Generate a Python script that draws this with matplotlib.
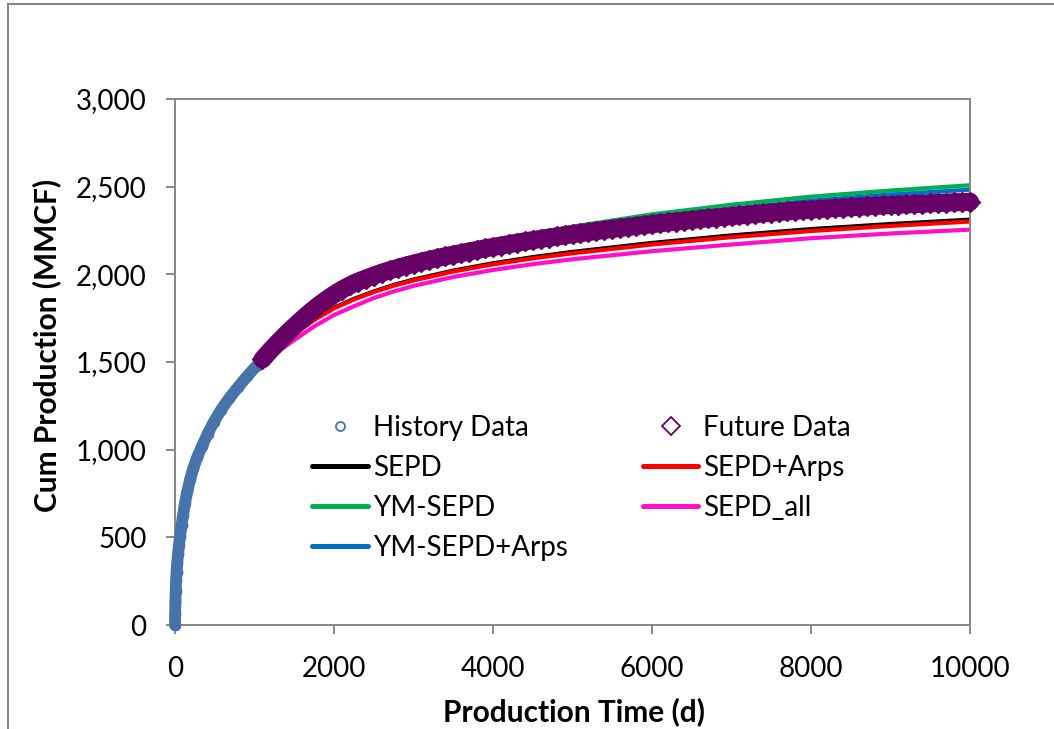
import matplotlib
matplotlib.use("Agg")
import matplotlib.pyplot as plt
from matplotlib.lines import Line2D
from matplotlib.ticker import FuncFormatter

plt.rcParams['font.family'] = ['Lato', 'DejaVu Sans']

# ---- measured production (days, MMCF) ----
hist_t = [0, 2, 5, 9, 14, 20, 28, 38, 50, 65, 82, 100, 125, 155, 190, 230,
          280, 340, 410, 490, 580, 680, 790, 910, 1040]
hist_q = [0, 60, 130, 195, 255, 305, 355, 405, 455, 510, 568, 625, 695, 762,
          830, 893, 958, 1020, 1090, 1160, 1228, 1292, 1355, 1420, 1485]

fut_t = [1100, 1200, 1300, 1400, 1500, 1600, 1700, 1800, 1900, 2000,
         2100, 2200, 2300, 2400, 2500, 2600, 2700, 2800, 2900, 3000,
         3100, 3200, 3300, 3400, 3500, 3600, 3700, 3800, 3900, 4000,
         4100, 4200, 4300, 4400, 4500, 4600, 4700, 4800, 4900, 5000,
         5100, 5200, 5300, 5400, 5500, 5600, 5700, 5800, 5900, 6000,
         6100, 6200, 6300, 6400, 6500, 6600, 6700, 6800, 6900, 7000,
         7100, 7200, 7300, 7400, 7500, 7600, 7700, 7800, 7900, 8000,
         8100, 8200, 8300, 8400, 8500, 8600, 8700, 8800, 8900, 9000,
         9100, 9200, 9300, 9400, 9500, 9600, 9700, 9800, 9900, 10000]
fut_q = [1515, 1566, 1614, 1660, 1703, 1744, 1784, 1821, 1854, 1885,
         1913, 1937, 1958, 1976, 1993, 2009, 2023, 2036, 2049, 2061,
         2072, 2083, 2093, 2103, 2112, 2121, 2130, 2139, 2148, 2156,
         2164, 2172, 2180, 2188, 2195, 2202, 2209, 2216, 2222, 2229,
         2235, 2241, 2247, 2253, 2259, 2265, 2270, 2276, 2281, 2286,
         2291, 2296, 2301, 2306, 2310, 2315, 2319, 2324, 2328, 2332,
         2336, 2340, 2344, 2348, 2352, 2356, 2359, 2363, 2366, 2369,
         2372, 2375, 2378, 2380, 2383, 2385, 2388, 2390, 2393, 2395,
         2397, 2399, 2401, 2403, 2405, 2407, 2409, 2411, 2412, 2414]

# ---- model forecasts (days, MMCF) ----
model_t = [0, 3, 10, 30, 60, 100, 150, 220, 300, 400, 500, 650, 800, 1000,
           1250, 1500, 1750, 2000, 2250, 2500, 2750, 3000, 3500, 4000, 4500,
           5000, 6000, 7000, 8000, 9000, 10000]
sepd = [0, 85, 207, 372, 492, 625, 751, 877, 978, 1080, 1166, 1273, 1360, 1466,
        1567, 1660, 1742, 1809, 1860, 1902, 1939, 1970, 2021, 2063, 2098,
        2128, 2179, 2222, 2258, 2287, 2312]
sepd_arps = [0, 85, 207, 372, 492, 625, 751, 877, 978, 1080, 1166, 1272, 1359, 1464,
             1565, 1658, 1740, 1806, 1857, 1899, 1935, 1965, 2016, 2057, 2091,
             2120, 2170, 2212, 2247, 2276, 2301]
ym_sepd = [0, 85, 207, 372, 492, 625, 751, 877, 978, 1080, 1167, 1275, 1362, 1470,
           1595, 1708, 1808, 1885, 1948, 2000, 2040, 2075, 2135, 2185, 2230,
           2272, 2342, 2397, 2443, 2478, 2508]
sepd_all = [0, 85, 207, 372, 492, 625, 751, 877, 978, 1080, 1164, 1268, 1352, 1455,
            1545, 1625, 1703, 1768, 1818, 1865, 1902, 1934, 1985, 2025, 2058,
            2086, 2132, 2170, 2206, 2233, 2255]
ym_sepd_arps = [0, 85, 207, 372, 492, 625, 751, 877, 978, 1080, 1167, 1275, 1362, 1470,
                1593, 1705, 1803, 1880, 1942, 1995, 2035, 2068, 2125, 2172, 2218,
                2262, 2325, 2373, 2420, 2455, 2483]

x_ticks = [0, 2000, 4000, 6000, 8000, 10000]
y_ticks = [0, 500, 1000, 1500, 2000, 2500, 3000]

HIST_C = '#4674AA'
FUT_C = '#660066'
GRID_C = '#868686'

W, H = 1054, 729
fig = plt.figure(figsize=(W / 100, H / 100), dpi=100)
ax = fig.add_axes([175 / W, 1 - 625 / H, 795 / W, 526 / H])

# model curves
curves = [("SEPD", sepd, "#000000"),
          ("SEPD+Arps", sepd_arps, "#FF0000"),
          ("YM-SEPD", ym_sepd, "#00B050"),
          ("SEPD_all", sepd_all, "#FF10C8"),
          ("YM-SEPD+Arps", ym_sepd_arps, "#0070C0")]
line_h = {}
for name, vals, col in curves:
    ln, = ax.plot(model_t, vals, '-', color=col, lw=3.0, zorder=2,
                  solid_capstyle='butt', solid_joinstyle='round', label=name)
    line_h[name] = ln

# measured data: dense markers drawn as a continuous band
ax.plot(hist_t, hist_q, '-', color=HIST_C, lw=8.5, zorder=3,
        solid_capstyle='round', solid_joinstyle='round', clip_on=False)
h_hist, = ax.plot(hist_t, hist_q, 'o', ms=7.5, mfc=HIST_C, mec=HIST_C, mew=1.0,
                  zorder=3, clip_on=False, label='History Data')
ax.plot(fut_t, fut_q, '-', color=FUT_C, lw=13.0, zorder=4,
        solid_capstyle='round', solid_joinstyle='round', clip_on=False)
h_fut, = ax.plot(fut_t, fut_q, 'D', ms=10.3, mfc=FUT_C, mec=FUT_C, mew=1.0,
                 zorder=4, clip_on=False, label='Future Data')

ax.set_xlim(0, 10000)
ax.set_ylim(0, 3000)
ax.set_xticks(x_ticks)
ax.set_yticks(y_ticks)
ax.yaxis.set_major_formatter(FuncFormatter(lambda v, p: f"{v:,.0f}"))

for s in ax.spines.values():
    s.set_color(GRID_C)
    s.set_linewidth(1.4)
ax.tick_params(axis='both', direction='out', length=6.5, width=1.4,
               color=GRID_C, labelsize=20, labelcolor='black')
ax.tick_params(axis='y', pad=14)
ax.tick_params(axis='x', pad=16)

ax.set_xlabel('Production Time (d)', fontsize=21.5, fontweight='bold')
ax.set_ylabel('Cum Production (MMCF)', fontsize=21.5, fontweight='bold')
ax.xaxis.set_label_coords(0.502, -0.165)
ax.xaxis.label.set_va('center')
ax.yaxis.set_label_coords(-0.162, 0.532)
ax.yaxis.label.set_va('center')

handles = [h_hist, line_h["SEPD"], line_h["YM-SEPD"], line_h["YM-SEPD+Arps"],
           h_fut, line_h["SEPD+Arps"], line_h["SEPD_all"]]
leg = ax.legend(handles=handles, ncol=2, loc='center',
                bbox_to_anchor=(0.5116, 0.2605), frameon=False, fontsize=20,
                handlelength=2.0, handletextpad=0.18, columnspacing=2.7,
                labelspacing=0.5, numpoints=1, borderaxespad=0)
for idx in (0, 4):
    lh = leg.legend_handles[idx]
    lh.set_markerfacecolor('white')
    lh.set_markeredgewidth(1.3)
leg.legend_handles[0].set_markersize(6.5)
leg.legend_handles[4].set_markersize(9.5)
for idx in (1, 2, 3, 5, 6):
    leg.legend_handles[idx].set_linewidth(3.6)
    leg.legend_handles[idx].set_solid_capstyle('round')

# outer chart frame
fig.add_artist(Line2D([7.5 / W, 7.5 / W], [0, 1 - 3.5 / H], color=GRID_C,
                      lw=1.5, transform=fig.transFigure))
fig.add_artist(Line2D([7.5 / W, 1], [1 - 3.5 / H, 1 - 3.5 / H], color=GRID_C,
                      lw=1.5, transform=fig.transFigure))

fig.savefig('out.png', dpi=100, facecolor='white')
